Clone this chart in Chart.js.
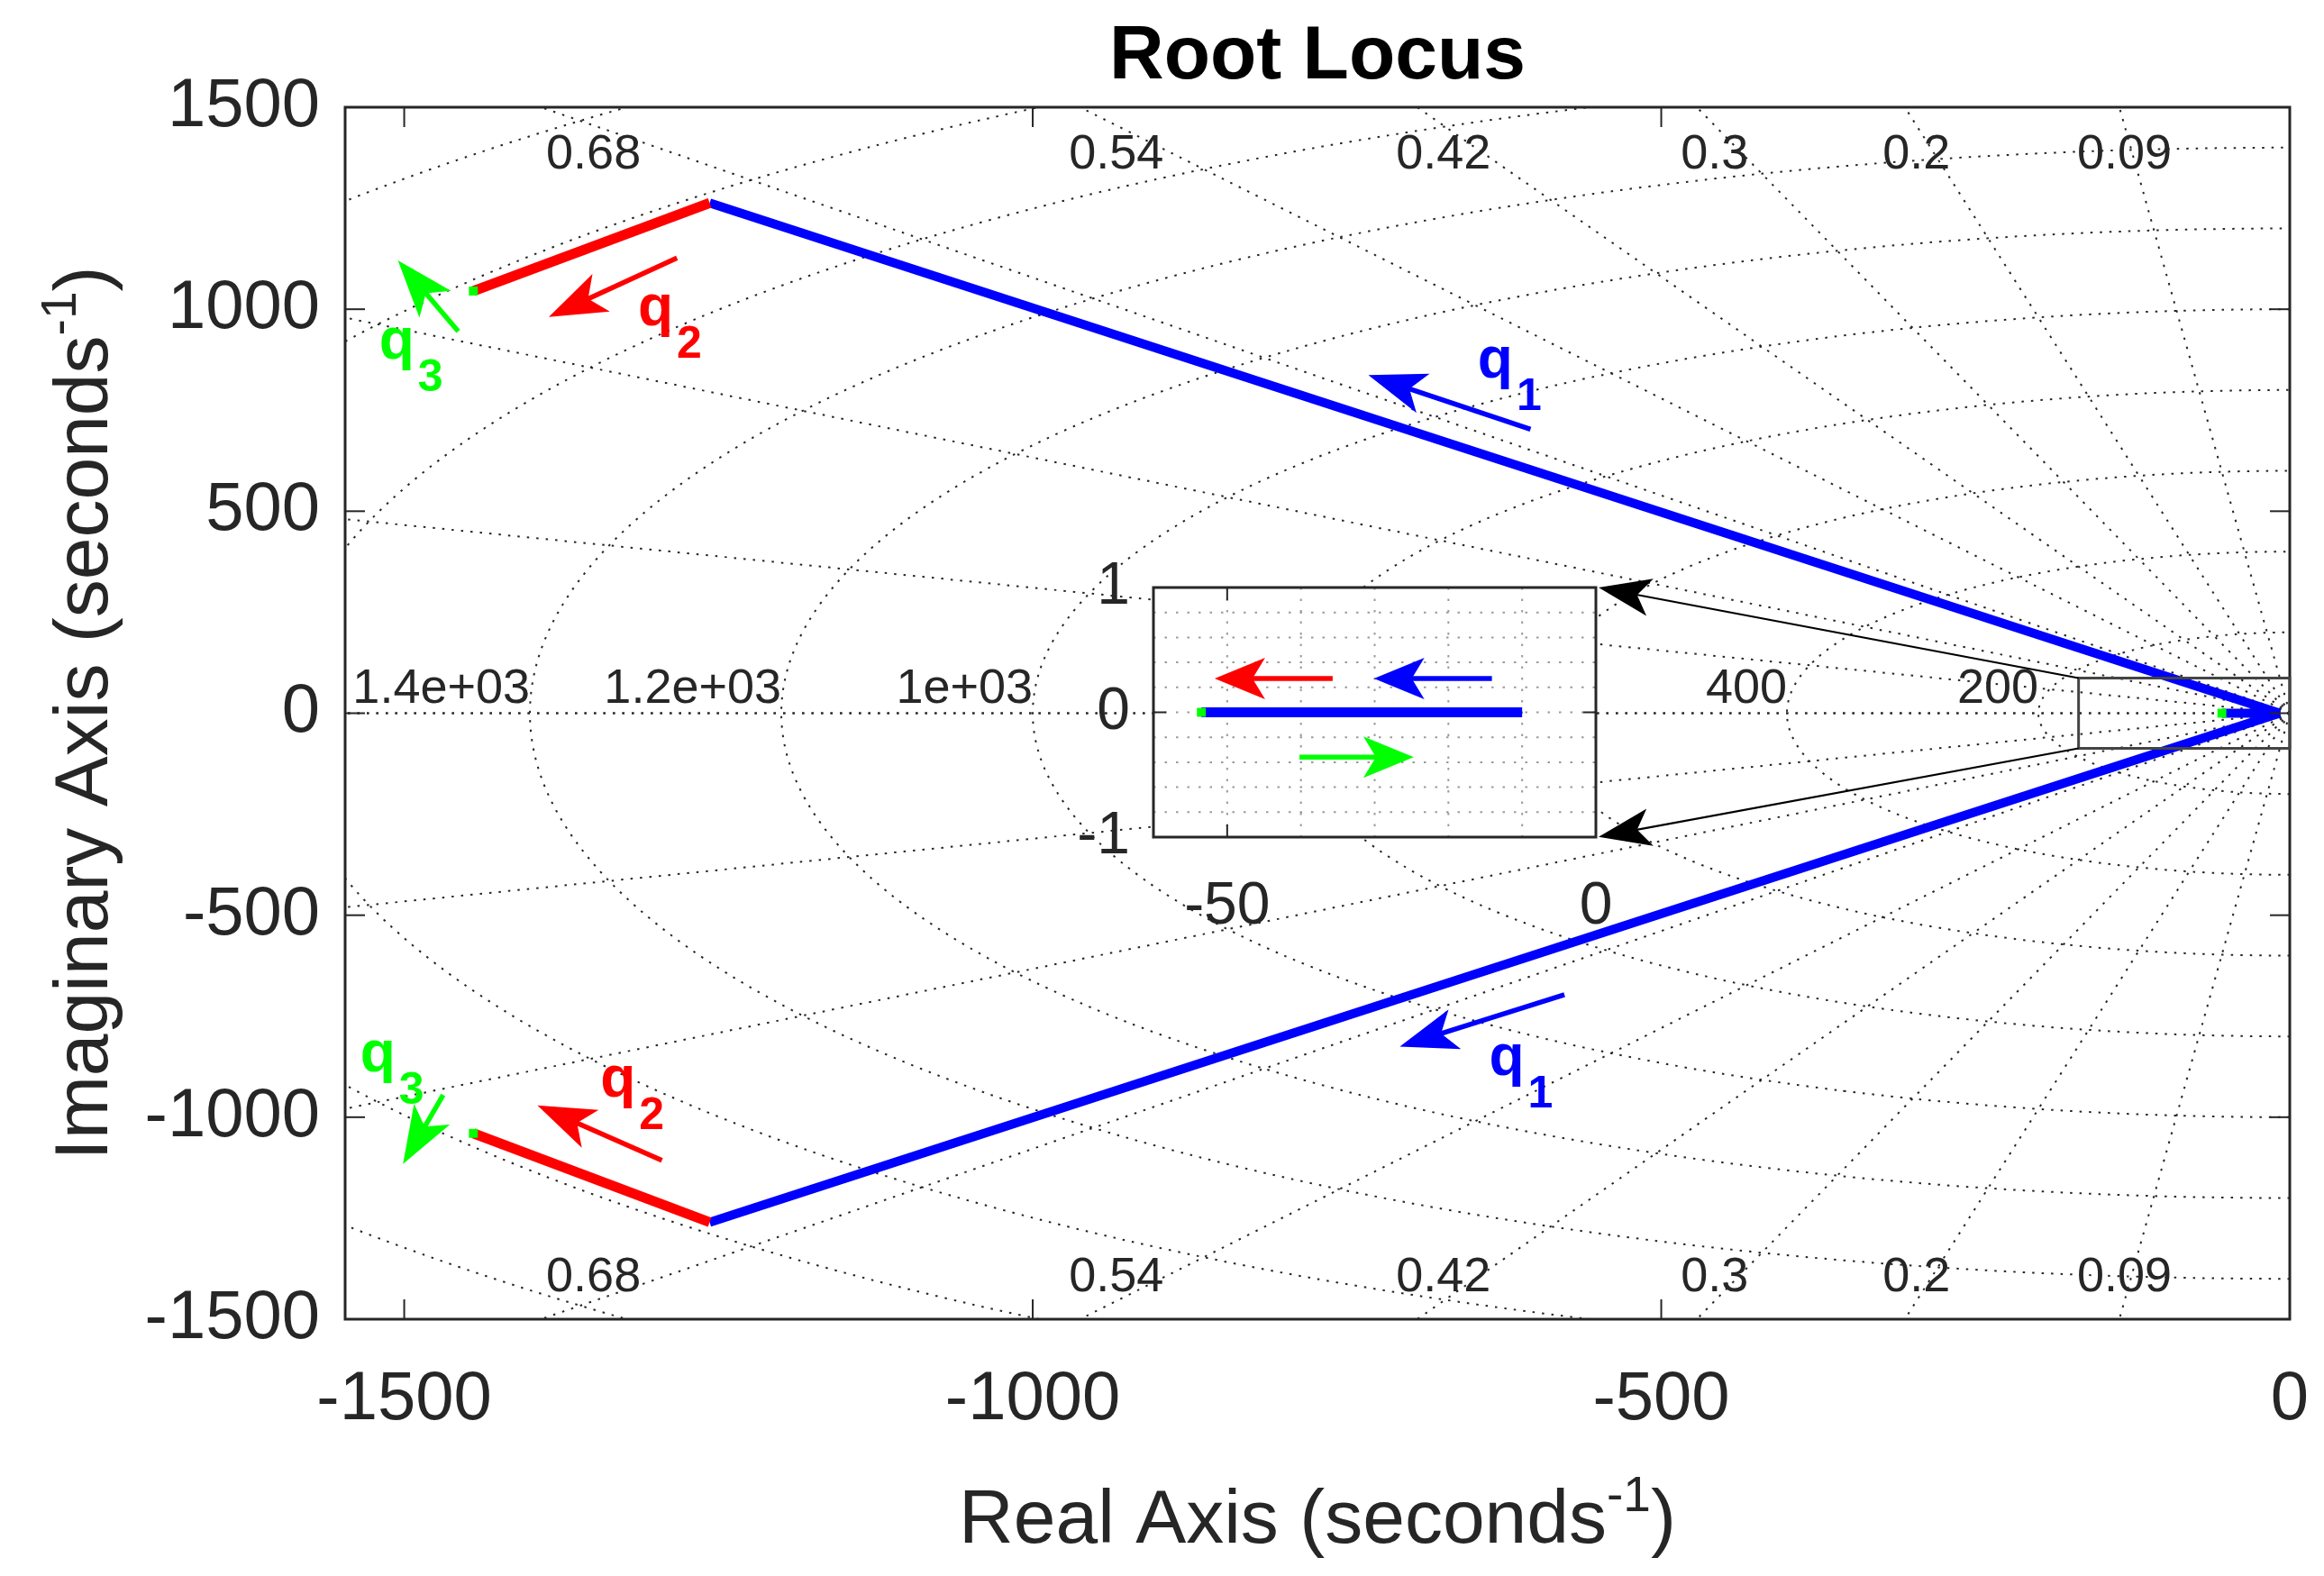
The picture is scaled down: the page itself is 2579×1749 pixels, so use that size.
<!DOCTYPE html>
<html>
<head>
<meta charset="utf-8">
<title>Root Locus</title>
<script src="https://cdn.jsdelivr.net/npm/chart.js@4.4.1/dist/chart.umd.min.js"></script>
<style>
  html, body { margin: 0; padding: 0; background: #fff; overflow: hidden; }
  #wrap { position: relative; width: 2579px; height: 1749px; }
  #main { position: absolute; left: 0; top: 0; }
  #inset { position: absolute; }
</style>
</head>
<body>
<div id="wrap">
  <canvas id="main" width="2579" height="1749"></canvas>
  <canvas id="inset"></canvas>
</div>
<script>
/* ── values ── */
const xTicks = [-1500, -1000, -500, 0];
const yTicks = [-1500, -1000, -500, 0, 500, 1000, 1500];

// sgrid: natural frequency circles and damping ratio rays
const freqs = [200, 400, 600, 800, 1000, 1200, 1400, 1600, 1800, 2000];
const freqLabels = ['200', '400', '600', '800', '1e+03', '1.2e+03', '1.4e+03', '1.6e+03', '1.8e+03', '2e+03'];
const dampings = [0.09, 0.2, 0.3, 0.42, 0.54, 0.68, 0.845, 0.955, 1];
const dampingLabels = ['0.09', '0.2', '0.3', '0.42', '0.54', '0.68', '0.845', '0.955', ''];

// locus branches
const q1RealX = [-54, -8];
const q1RealY = [0, 0];
const q1UpperX = [-8, -1257];
const q1UpperY = [0, 1263];
const q1LowerX = [-8, -1257];
const q1LowerY = [0, -1260];
const q2UpperX = [-1257, -1445];
const q2UpperY = [1263, 1045];
const q2LowerX = [-1257, -1445];
const q2LowerY = [-1260, -1040];
const startX = [-54, -1445, -1445];
const startY = [0, 1045, -1040];

// direction arrows and their q tags (main axes)
const arrowTailX = [-604, -577, -1283, -1295, -1457, -1469];
const arrowTailY = [703, -697, 1127, -1107, 945, -945];
const arrowTipX = [-733, -708, -1385, -1394, -1505, -1501];
const arrowTipY = [837, -825, 981, -971, 1121, -1116];
const tagSub = ['1', '1', '2', '2', '3', '3'];
const tagX = [-646, -637, -1314, -1344, -1520, -1535];
const tagY = [830, -895, 960, -950, 878, -886];

// zoom window on the main axes and where the inset sits
const zoomRectX = [-168, 0];
const zoomRectY = [-87, 87];
const insetAtX = [-904, -552];
const insetAtY = [-306, 311];

// inset (zoom near origin)
const insetXTicks = [-50, 0];
const insetYTicks = [-1, 0, 1];
const insetXGrid = [-50, -40, -30, -20, -10];
const insetYGrid = [-0.8, -0.6, -0.4, -0.2, 0, 0.2, 0.4, 0.6, 0.8];
const insetLocusX = [-53.5, -10];
const insetLocusY = [0, 0];
const insetStartX = [-53.5];
const insetStartY = [0];
const insetArrowTailX = [-35.7, -14.1, -40.2];
const insetArrowTailY = [0.27, 0.27, -0.36];
const insetArrowTipX = [-51.7, -30.1, -24.7];
const insetArrowTipY = [0.27, 0.27, -0.36];

/* ── styling ── */
const BLUE = '#0000ff', RED = '#ff0000', GREEN = '#00ff00', INK = '#262626';
const FONT = '"Liberation Sans", Arial, Helvetica, sans-serif';
const tagColor = [BLUE, BLUE, RED, RED, GREEN, GREEN];
const insetArrowColor = [RED, BLUE, GREEN];

const pts = (xs, ys) => xs.map((x, i) => ({ x, y: ys[i] }));

function line(ctx, x0, y0, x1, y1) {
  ctx.beginPath(); ctx.moveTo(x0, y0); ctx.lineTo(x1, y1); ctx.stroke();
}

// MATLAB-ish 'vback2' arrow
function drawArrow(ctx, x0, y0, x1, y1, color, shaftW, headL, headW) {
  const ang = Math.atan2(y1 - y0, x1 - x0);
  const len = Math.hypot(x1 - x0, y1 - y0);
  const notch = headL * 0.75;
  ctx.save();
  ctx.translate(x1, y1);
  ctx.rotate(ang);
  ctx.setLineDash([]);
  ctx.strokeStyle = color;
  ctx.lineWidth = shaftW;
  line(ctx, -len, 0, -notch + 2, 0);
  ctx.fillStyle = color;
  ctx.beginPath();
  ctx.moveTo(0, 0);
  ctx.lineTo(-headL, -headW / 2);
  ctx.lineTo(-notch, 0);
  ctx.lineTo(-headL, headW / 2);
  ctx.closePath();
  ctx.fill();
  ctx.restore();
}

function drawInwardTicks(ctx, a, x, y, xs, ys, tl) {
  xs.forEach(v => {
    const px = x.getPixelForValue(v);
    line(ctx, px, a.bottom, px, a.bottom - tl);
    line(ctx, px, a.top, px, a.top + tl);
  });
  ys.forEach(v => {
    const py = y.getPixelForValue(v);
    line(ctx, a.left, py, a.left + tl, py);
    line(ctx, a.right, py, a.right - tl, py);
  });
}

// text with a raised "-1" exponent, centred on (cx, baseline)
function drawUnitsTitle(ctx, head, cx, base, size) {
  const supSize = Math.round(size * 0.66);
  ctx.font = `${size}px ${FONT}`;
  const w1 = ctx.measureText(head).width;
  const w3 = ctx.measureText(')').width;
  ctx.font = `${supSize}px ${FONT}`;
  const w2 = ctx.measureText('-1').width;
  let x0 = cx - (w1 + w2 + w3) / 2;
  ctx.textAlign = 'left';
  ctx.textBaseline = 'alphabetic';
  ctx.font = `${size}px ${FONT}`;
  ctx.fillText(head, x0, base);
  ctx.font = `${supSize}px ${FONT}`;
  ctx.fillText('-1', x0 + w1, base - size * 0.42);
  ctx.font = `${size}px ${FONT}`;
  ctx.fillText(')', x0 + w1 + w2, base);
}

// stop Chart.js from reserving room for edge tick labels
function noEdgePadding(s) {
  s.paddingLeft = 0; s.paddingRight = 0; s.paddingTop = 0; s.paddingBottom = 0;
}

/* ── sgrid under the locus ── */
const sgridPlugin = {
  id: 'sgrid',
  beforeDatasetsDraw(chart) {
    const { ctx, chartArea: a, scales: { x, y } } = chart;
    const ox = x.getPixelForValue(0), oy = y.getPixelForValue(0);
    ctx.save();
    ctx.beginPath();
    ctx.rect(a.left, a.top, a.right - a.left, a.bottom - a.top);
    ctx.clip();
    ctx.strokeStyle = INK;
    ctx.lineWidth = 2;
    ctx.setLineDash([2.5, 8]);
    freqs.forEach(w => {
      const rx = ox - x.getPixelForValue(-w);
      const ry = y.getPixelForValue(-w) - oy;
      ctx.beginPath();
      ctx.ellipse(ox, oy, rx, ry, 0, Math.PI / 2, Math.PI * 1.5);
      ctx.stroke();
    });
    dampings.forEach(z => {
      const th = Math.acos(z);
      [1, -1].forEach(s => {
        line(ctx, ox, oy, x.getPixelForValue(-4000 * Math.cos(th)), y.getPixelForValue(s * 4000 * Math.sin(th)));
      });
    });
    ctx.restore();

    // grid labels
    ctx.save();
    ctx.fillStyle = INK;
    ctx.font = `54px ${FONT}`;
    ctx.textAlign = 'center';
    ctx.textBaseline = 'middle';
    dampings.forEach((z, i) => {
      if (!dampingLabels[i]) return;
      const lx = -1455 * z / Math.sqrt(1 - z * z);
      if (lx < x.min + 60) return;
      const px = x.getPixelForValue(lx);
      ctx.fillText(dampingLabels[i], px, y.getPixelForValue(1382));
      ctx.fillText(dampingLabels[i], px, y.getPixelForValue(-1398));
    });
    ctx.textAlign = 'right';
    ctx.textBaseline = 'alphabetic';
    freqs.forEach((w, i) => {
      if (-w < x.min) return;
      ctx.fillText(freqLabels[i], x.getPixelForValue(-w), oy - 12);
    });
    ctx.restore();
  }
};

/* ── box, ticks, zoom window, arrows, tags ── */
const annotPlugin = {
  id: 'annot',
  afterDatasetsDraw(chart) {
    const { ctx, chartArea: a, scales: { x, y } } = chart;
    ctx.save();
    ctx.setLineDash([]);
    ctx.strokeStyle = INK;
    ctx.lineWidth = 3;
    ctx.strokeRect(a.left, a.top, a.right - a.left, a.bottom - a.top);
    ctx.lineWidth = 2;
    drawInwardTicks(ctx, a, x, y, xTicks, yTicks, 22);

    // zoom window
    const rx0 = x.getPixelForValue(zoomRectX[0]), rx1 = x.getPixelForValue(zoomRectX[1]);
    const ry0 = y.getPixelForValue(zoomRectY[1]), ry1 = y.getPixelForValue(zoomRectY[0]);
    ctx.strokeStyle = '#444';
    ctx.lineWidth = 3;
    ctx.strokeRect(rx0, ry0, rx1 - rx0, ry1 - ry0);

    // connectors to the inset corners
    const ix = x.getPixelForValue(insetAtX[1]) + 3;
    drawArrow(ctx, rx0, ry0, ix, y.getPixelForValue(insetAtY[1]), '#000', 2.2, 58, 42);
    drawArrow(ctx, rx0, ry1, ix, y.getPixelForValue(insetAtY[0]), '#000', 2.2, 58, 42);

    // direction arrows
    arrowTailX.forEach((_, i) => {
      drawArrow(ctx,
        x.getPixelForValue(arrowTailX[i]), y.getPixelForValue(arrowTailY[i]),
        x.getPixelForValue(arrowTipX[i]), y.getPixelForValue(arrowTipY[i]),
        tagColor[i], 5.5, 64, 46);
    });

    // q tags
    ctx.textAlign = 'left';
    ctx.textBaseline = 'alphabetic';
    tagSub.forEach((sub, i) => {
      const px = x.getPixelForValue(tagX[i]), py = y.getPixelForValue(tagY[i]);
      ctx.fillStyle = tagColor[i];
      ctx.font = `bold 64px ${FONT}`;
      ctx.fillText('q', px, py);
      const w = ctx.measureText('q').width;
      ctx.font = `bold 50px ${FONT}`;
      ctx.fillText(sub, px + w + 4, py + 36);
    });
    ctx.restore();
  },
  afterDraw(chart) {
    const { ctx, chartArea: a } = chart;
    ctx.save();
    ctx.fillStyle = '#000';
    ctx.font = `bold 84px ${FONT}`;
    ctx.textAlign = 'center';
    ctx.textBaseline = 'alphabetic';
    ctx.fillText('Root Locus', (a.left + a.right) / 2, 87);

    ctx.fillStyle = INK;
    drawUnitsTitle(ctx, 'Real Axis (seconds', (a.left + a.right) / 2, 1712, 84);
    ctx.translate(119, (a.top + a.bottom) / 2);
    ctx.rotate(-Math.PI / 2);
    drawUnitsTitle(ctx, 'Imaginary Axis (seconds', 0, 0, 84);
    ctx.restore();
  }
};

const lineSet = (xs, ys, color, w) => ({
  data: pts(xs, ys), showLine: true, borderColor: color, borderWidth: w,
  pointRadius: 0, borderCapStyle: 'butt', borderJoinStyle: 'miter'
});

const mainChart = new Chart(document.getElementById('main'), {
  type: 'scatter',
  data: {
    datasets: [
      { data: pts(startX, startY), showLine: false, pointStyle: 'rect', pointRadius: 7,
        pointBackgroundColor: GREEN, pointBorderWidth: 0 },
      lineSet(q2UpperX, q2UpperY, RED, 11),
      lineSet(q2LowerX, q2LowerY, RED, 11),
      lineSet(q1UpperX, q1UpperY, BLUE, 10),
      lineSet(q1LowerX, q1LowerY, BLUE, 10),
      lineSet(q1RealX, q1RealY, BLUE, 10),
    ],
  },
  options: {
    responsive: false,
    animation: false,
    devicePixelRatio: 1,
    events: [],
    layout: { padding: { top: 119, right: 38, left: 0, bottom: 0 } },
    plugins: { legend: { display: false }, tooltip: { enabled: false } },
    scales: {
      x: {
        type: 'linear', min: -1547, max: 0,
        grid: { display: false, drawTicks: false }, border: { display: false },
        afterBuildTicks: s => { s.ticks = xTicks.map(v => ({ value: v })); },
        afterFit: s => { s.height = 285; noEdgePadding(s); },
        ticks: { font: { family: FONT, size: 76 }, color: INK, padding: 44,
                 maxRotation: 0, autoSkip: false, callback: v => String(v) },
      },
      y: {
        type: 'linear', min: -1500, max: 1500,
        grid: { display: false, drawTicks: false }, border: { display: false },
        afterBuildTicks: s => { s.ticks = yTicks.map(v => ({ value: v })); },
        afterFit: s => { s.width = 383; noEdgePadding(s); },
        ticks: { font: { family: FONT, size: 76 }, color: INK, padding: 28,
                 autoSkip: false, callback: v => String(v) },
      },
    },
  },
  plugins: [sgridPlugin, annotPlugin],
});

/* ── inset, placed over the main axes ── */
function initInset() {
  const mx = mainChart.scales.x, my = mainChart.scales.y;
  const boxL = mx.getPixelForValue(insetAtX[0]), boxR = mx.getPixelForValue(insetAtX[1]);
  const boxT = my.getPixelForValue(insetAtY[1]), boxB = my.getPixelForValue(insetAtY[0]);
  const padL = 150, padT = 60, padR = 40, padB = 140;
  const cv = document.getElementById('inset');
  cv.width = Math.round(boxR - boxL + padL + padR);
  cv.height = Math.round(boxB - boxT + padT + padB);
  cv.style.width = cv.width + 'px';
  cv.style.height = cv.height + 'px';
  cv.style.left = Math.round(boxL - padL) + 'px';
  cv.style.top = Math.round(boxT - padT) + 'px';

  const insetPlugin = {
    id: 'insetDeco',
    beforeDatasetsDraw(chart) {
      const { ctx, chartArea: a, scales: { x, y } } = chart;
      ctx.save();
      ctx.fillStyle = '#fff';
      ctx.fillRect(a.left, a.top, a.right - a.left, a.bottom - a.top);
      ctx.strokeStyle = '#9a9a9a';
      ctx.lineWidth = 2;
      ctx.setLineDash([2.5, 10]);
      insetXGrid.forEach(v => { const px = x.getPixelForValue(v); line(ctx, px, a.top, px, a.bottom); });
      insetYGrid.forEach(v => { const py = y.getPixelForValue(v); line(ctx, a.left, py, a.right, py); });
      ctx.restore();
    },
    afterDatasetsDraw(chart) {
      const { ctx, chartArea: a, scales: { x, y } } = chart;
      ctx.save();
      ctx.setLineDash([]);
      ctx.strokeStyle = INK;
      ctx.lineWidth = 2;
      drawInwardTicks(ctx, a, x, y, insetXTicks, insetYTicks, 14);
      ctx.lineWidth = 3;
      ctx.strokeRect(a.left, a.top, a.right - a.left, a.bottom - a.top);
      insetArrowTailX.forEach((_, i) => {
        drawArrow(ctx,
          x.getPixelForValue(insetArrowTailX[i]), y.getPixelForValue(insetArrowTailY[i]),
          x.getPixelForValue(insetArrowTipX[i]), y.getPixelForValue(insetArrowTipY[i]),
          insetArrowColor[i], 5.5, 56, 46);
      });
      ctx.restore();
    }
  };

  new Chart(cv, {
    type: 'scatter',
    data: {
      datasets: [
        { data: pts(insetStartX, insetStartY), showLine: false, pointStyle: 'rect', pointRadius: 7,
          pointBackgroundColor: GREEN, pointBorderWidth: 0 },
        lineSet(insetLocusX, insetLocusY, BLUE, 11),
      ],
    },
    options: {
      responsive: false,
      animation: false,
      devicePixelRatio: 1,
      events: [],
      layout: { padding: { top: padT, right: padR, left: 0, bottom: 0 } },
      plugins: { legend: { display: false }, tooltip: { enabled: false } },
      scales: {
        x: {
          type: 'linear', min: -60, max: 0,
          grid: { display: false, drawTicks: false }, border: { display: false },
          afterBuildTicks: s => { s.ticks = insetXTicks.map(v => ({ value: v })); },
          afterFit: s => { s.height = padB; noEdgePadding(s); },
          ticks: { font: { family: FONT, size: 66 }, color: INK, padding: 38,
                   maxRotation: 0, autoSkip: false, callback: v => String(v) },
        },
        y: {
          type: 'linear', min: -1, max: 1,
          grid: { display: false, drawTicks: false }, border: { display: false },
          afterBuildTicks: s => { s.ticks = insetYTicks.map(v => ({ value: v })); },
          afterFit: s => { s.width = padL; noEdgePadding(s); },
          ticks: { font: { family: FONT, size: 66 }, color: INK, padding: 26,
                   autoSkip: false, callback: v => String(v) },
        },
      },
    },
    plugins: [insetPlugin],
  });
}

initInset();
</script>
</body>
</html>
